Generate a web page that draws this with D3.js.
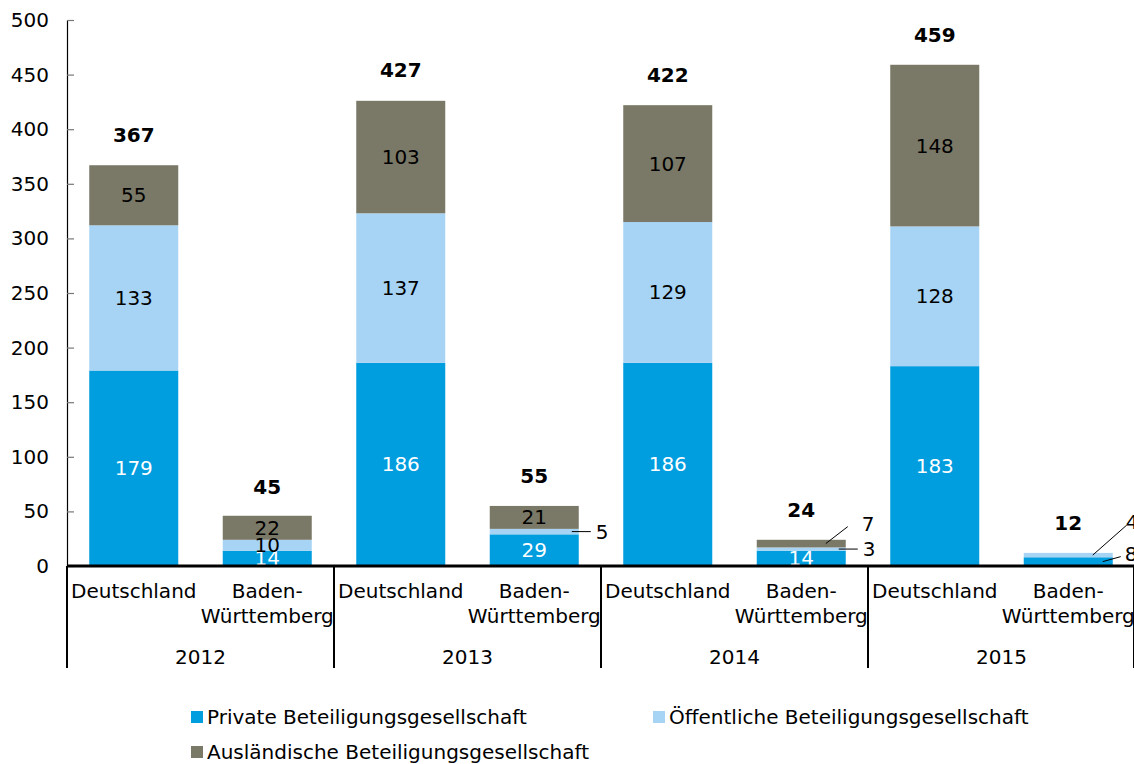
<!DOCTYPE html>
<html><head><meta charset="utf-8">
<script src="https://cdn.jsdelivr.net/npm/d3@7"></script>
<style>body{margin:0;background:#fff}svg{display:block}text{font-family:"DejaVu Sans",sans-serif}</style>
</head><body><svg id="c" width="1134" height="764"></svg>
<script>
const years = ["2012","2013","2014","2015"];
const regions = ["Deutschland","Baden-Württemberg"];
const seriesNames = ["Private Beteiligungsgesellschaft","Öffentliche Beteiligungsgesellschaft","Ausländische Beteiligungsgesellschaft"];
const privateVals = [179,14,186,29,186,14,183,8];
const publicVals  = [133,10,137,5,129,3,128,4];
const foreignVals = [55,22,103,21,107,7,148,0];
const totals      = [367,45,427,55,422,24,459,12];
const yTicks = [0,50,100,150,200,250,300,350,400,450,500];
const colors = ["#009ddf","#a7d4f4","#7a7866"];
const FS = 20;

// callout styling for segments too thin to label inside (index-series) -> leader geometry
const callouts = {
  "3-1":{x1:-7,y1:0,x2:12,y2:0,tx:17,ty:0},
  "5-1":{x1:-7,y1:0,x2:12,y2:0,tx:17,ty:0},
  "5-2":{x1:-20,y1:0,x2:2,y2:-17,tx:16,ty:-20},
  "7-0":{x1:-10,y1:0,x2:8,y2:-5,tx:12,ty:-8},
  "7-1":{x1:-20,y1:0,x2:14,y2:-30,tx:13,ty:-33}
};

const svg = d3.select("#c");
const x0 = 67, x1 = 1135, yBase = 566, yTop = 20;
const y = d3.scaleLinear().domain([0,500]).range([yBase,yTop]);
const keys = [];
years.forEach(yr => regions.forEach(r => keys.push(yr+"|"+r)));
const x = d3.scaleBand().domain(keys).range([x0,x1]).paddingInner(1/3).paddingOuter(1/6);
const xYear = d3.scaleBand().domain(years).range([x0,x1]);

const rows = keys.map((k,i)=>({key:k, i, v:[privateVals[i],publicVals[i],foreignVals[i]]}));
const stack = d3.stack().keys([0,1,2]).value((d,k)=>d.v[k]);
const layers = stack(rows);

// y axis
const yAxis = d3.axisLeft(y).tickValues(yTicks).tickSize(0).tickPadding(18);
const gy = svg.append("g").attr("transform",`translate(${x0},0)`).call(yAxis);
gy.select(".domain").attr("stroke","#000").attr("stroke-width",1.2);
gy.selectAll(".tick text").attr("font-size",FS).attr("fill","#000");
gy.selectAll(".tick").append("line").attr("x1",0).attr("x2",7).attr("stroke","#777").attr("stroke-width",1.2);

// bars
layers.forEach((layer,s)=>{
  svg.append("g").selectAll("rect").data(layer).join("rect")
    .attr("x",d=>x(d.data.key)).attr("width",x.bandwidth())
    .attr("y",d=>y(d[1])).attr("height",d=>y(d[0])-y(d[1]))
    .attr("fill",colors[s]);
});

// segment labels
layers.forEach((layer,s)=>{
  layer.forEach(d=>{
    const val = d.data.v[s];
    if(val===0) return;
    const cx = x(d.data.key)+x.bandwidth()/2;
    const cy = (y(d[0])+y(d[1]))/2;
    const co = callouts[d.data.i+"-"+s];
    if(co){
      const ex = x(d.data.key)+x.bandwidth();
      svg.append("line").attr("x1",ex+co.x1).attr("y1",cy+co.y1).attr("x2",ex+co.x2).attr("y2",cy+co.y2)
        .attr("stroke","#000").attr("stroke-width",1);
      svg.append("text").attr("x",ex+co.tx).attr("y",cy+co.ty).attr("dy","0.35em")
        .attr("font-size",FS).attr("fill","#000").text(val);
    } else {
      svg.append("text").attr("x",cx).attr("y",cy).attr("dy","0.35em").attr("text-anchor","middle")
        .attr("font-size",FS).attr("fill",s===0?"#fff":"#000").text(val);
    }
  });
});

// totals
rows.forEach(r=>{
  svg.append("text").attr("x",x(r.key)+x.bandwidth()/2).attr("y",y(totals[r.i])-30).attr("dy","0.35em")
    .attr("text-anchor","middle").attr("font-size",FS).attr("font-weight","bold").attr("fill","#000").text(totals[r.i]);
});

// x axis base line
svg.append("line").attr("x1",x0).attr("x2",x1).attr("y1",yBase).attr("y2",yBase).attr("stroke","#000").attr("stroke-width",3);
// year separators
[...years.map(yr=>xYear(yr)), x1-1].forEach(px=>{
  svg.append("line").attr("x1",px).attr("x2",px).attr("y1",yBase).attr("y2",668).attr("stroke","#000").attr("stroke-width",2);
});
// category labels
rows.forEach(r=>{
  const reg = r.key.split("|")[1];
  const cx = x(r.key)+x.bandwidth()/2;
  if(reg==="Baden-Württemberg"){
    svg.append("text").attr("x",cx).attr("y",591).attr("dy","0.35em").attr("text-anchor","middle").attr("font-size",FS).text("Baden-");
    svg.append("text").attr("x",cx).attr("y",616).attr("dy","0.35em").attr("text-anchor","middle").attr("font-size",FS).text("Württemberg");
  } else {
    svg.append("text").attr("x",cx).attr("y",591).attr("dy","0.35em").attr("text-anchor","middle").attr("font-size",FS).text(reg);
  }
});
years.forEach(yr=>{
  svg.append("text").attr("x",xYear(yr)+xYear.bandwidth()/2).attr("y",657).attr("dy","0.35em")
    .attr("text-anchor","middle").attr("font-size",FS).text(yr);
});

// legend
const legPos = [[191,717],[653,717],[191,752]];
seriesNames.forEach((n,i)=>{
  const [lx,ly] = legPos[i];
  svg.append("rect").attr("x",lx).attr("y",ly-6).attr("width",12).attr("height",12).attr("fill",colors[i]);
  svg.append("text").attr("x",lx+16).attr("y",ly).attr("dy","0.35em").attr("font-size",FS).attr("fill","#000").text(n);
});
</script></body></html>
